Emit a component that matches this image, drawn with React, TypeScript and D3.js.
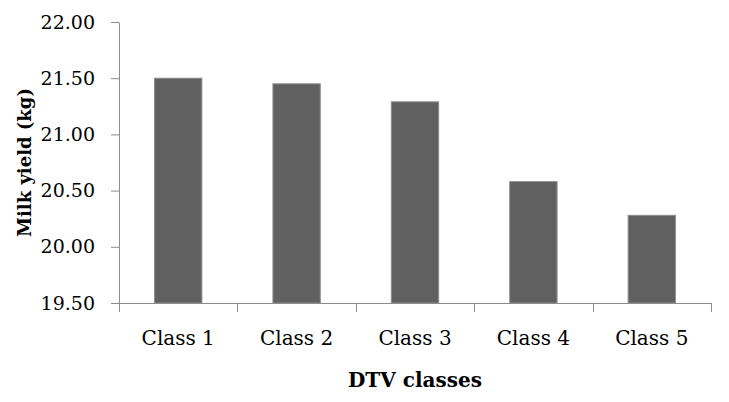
import React, { useRef, useEffect } from "react";
import * as d3 from "d3";

// values
const categories = ["Class 1", "Class 2", "Class 3", "Class 4", "Class 5"];
const milkYield = [21.5, 21.45, 21.29, 20.58, 20.28];
const yTicks = [19.5, 20.0, 20.5, 21.0, 21.5, 22.0];

const W = 729;
const H = 402;
const margin = { top: 22, right: 18, bottom: 99, left: 119 };

const App = () => {
  const svgRef = useRef<SVGSVGElement>(null);

  useEffect(() => {
    const svg = d3.select(svgRef.current);
    svg.selectAll("*").remove();

    const innerW = W - margin.left - margin.right;
    const innerH = H - margin.top - margin.bottom;

    const x = d3
      .scaleBand()
      .domain(categories)
      .range([0, innerW])
      .paddingInner(0.6)
      .paddingOuter(0.3);

    const y = d3.scaleLinear().domain([19.5, 22]).range([innerH, 0]);

    const g = svg
      .append("g")
      .attr("transform", `translate(${margin.left},${margin.top})`);

    const axisColor = "#8c8c8c";
    const font = "'DejaVu Serif', 'Liberation Serif', serif";

    // bars
    g.selectAll(".bar")
      .data(milkYield)
      .join("rect")
      .attr("class", "bar")
      .attr("x", (d, i) => x(categories[i])!)
      .attr("y", (d) => y(d))
      .attr("width", x.bandwidth())
      .attr("height", (d) => innerH - y(d))
      .attr("fill", "#606060")
      .attr("stroke", "#8f8f8f")
      .attr("stroke-width", 1);

    // y axis
    const yAxis = d3
      .axisLeft(y)
      .tickValues(yTicks)
      .tickSize(8)
      .tickPadding(16)
      .tickFormat(d3.format(".2f"));
    const yg = g.append("g").attr("class", "y-axis").call(yAxis);
    yg.select(".domain").attr("stroke", axisColor).attr("d", `M0.5,${innerH}V0.5`);
    yg.selectAll(".tick line").attr("stroke", axisColor);
    yg.selectAll(".tick text")
      .attr("fill", "#000")
      .style("font-family", font)
      .style("font-size", "19px");

    // x axis: ticks at category boundaries
    const xg = g
      .append("g")
      .attr("class", "x-axis")
      .attr("transform", `translate(0,${innerH})`);
    xg.append("line")
      .attr("x1", -8)
      .attr("x2", innerW)
      .attr("y1", 0.5)
      .attr("y2", 0.5)
      .attr("stroke", axisColor);
    const bounds = d3.range(categories.length + 1).map((i) => i * (innerW / categories.length));
    xg.selectAll(".xtick")
      .data(bounds)
      .join("line")
      .attr("class", "xtick")
      .attr("x1", (d) => Math.round(d) + 0.5)
      .attr("x2", (d) => Math.round(d) + 0.5)
      .attr("y1", 0)
      .attr("y2", 9)
      .attr("stroke", axisColor);
    xg.selectAll(".xlabel")
      .data(categories)
      .join("text")
      .attr("class", "xlabel")
      .attr("x", (d) => x(d)! + x.bandwidth() / 2)
      .attr("y", 42)
      .attr("text-anchor", "middle")
      .style("font-family", font)
      .style("font-size", "20px")
      .text((d) => d);

    // axis titles
    svg
      .append("text")
      .attr("x", margin.left + innerW / 2)
      .attr("y", 387)
      .attr("text-anchor", "middle")
      .style("font-family", font)
      .style("font-size", "20px")
      .style("font-weight", "bold")
      .text("DTV classes");

    svg
      .append("text")
      .attr("transform", `translate(31,${margin.top + innerH / 2}) rotate(-90)`)
      .attr("text-anchor", "middle")
      .style("font-family", font)
      .style("font-size", "18px")
      .style("font-weight", "bold")
      .text("Milk yield (kg)");
  }, []);

  return (
    <svg
      ref={svgRef}
      width={W}
      height={H}
      style={{ position: "absolute", left: 0, top: 0, background: "#fff" }}
    />
  );
};

export default App;
